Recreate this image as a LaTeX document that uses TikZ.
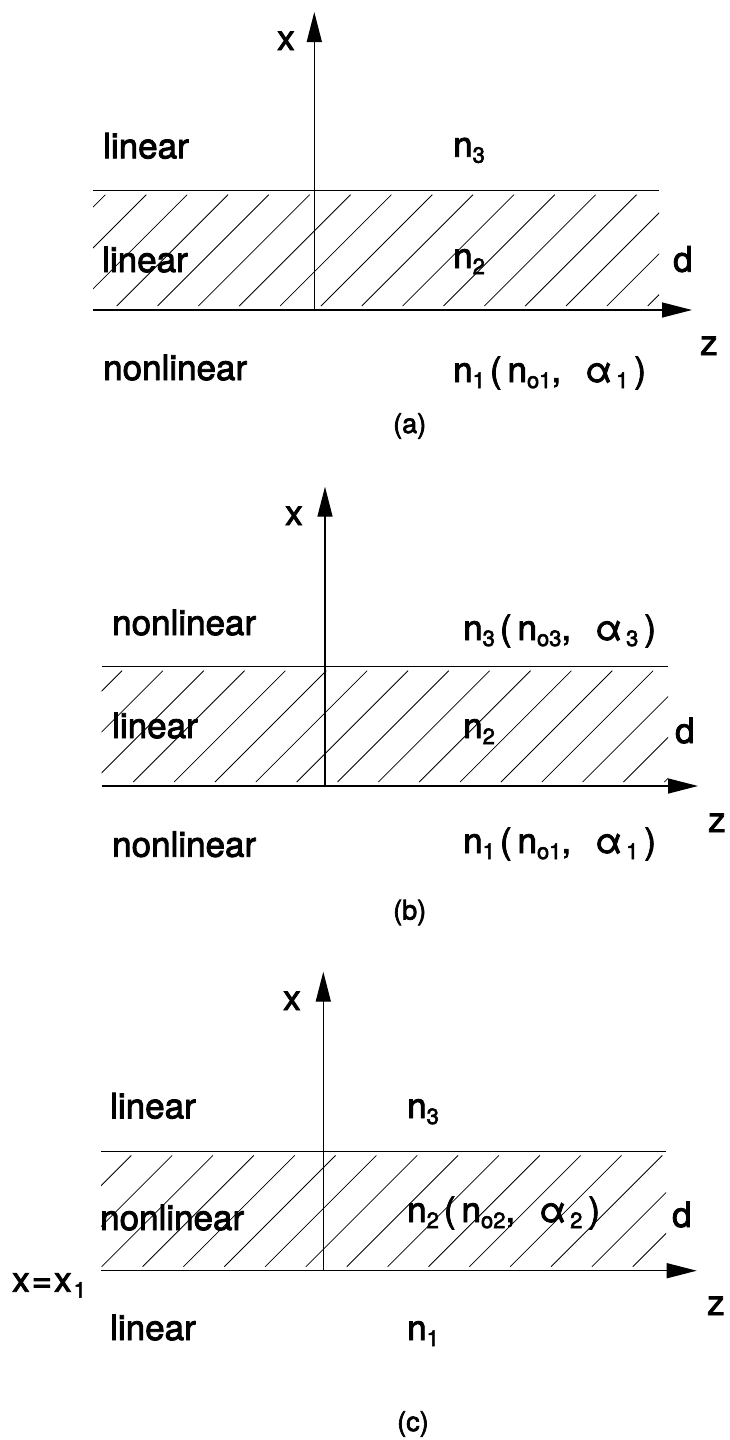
\documentclass[tikz,border=0pt]{standalone}
\usepackage{fontspec}
\setmainfont{TeX Gyre Heros}[FakeBold=2.5]
\usetikzlibrary{arrows.meta}
\newcommand\sbs[1]{\raisebox{-6pt}{\fontsize{22}{22}\selectfont #1}}
\newcommand\nterm[2]{n\sbs{#1}\hspace{5pt}(\hspace{6pt}n\sbs{o#1},\hspace{24pt}α\hspace{4pt}\sbs{#2}\hspace{6pt})}
\tikzset{
  lbl/.style={anchor=base west, inner sep=0pt, font=\fontsize{35}{40}\selectfont},
  captxt/.style={anchor=base west, inner sep=0pt, font=\fontsize{27}{30}\selectfont},
  bound/.style={line width=1.2pt},
  axisarrow/.style={line width=1.4pt, -{Triangle[length=30pt,width=15pt]}},
  hatchline/.style={line width=0.8pt},
}
\begin{document}
\begin{tikzpicture}[x=1pt,y=-1pt]
\useasboundingbox (0,0) rectangle (729,1440);

% ---------- panel (a) ----------
\coordinate (aTL) at (93,190.7);
\coordinate (aTR) at (659,190.7);
\coordinate (aBL) at (93,310);
\coordinate (aO) at (314.3,310);
\coordinate (aZ) at (692,310);
\coordinate (aX) at (314.3,12);
\begin{scope}
  \clip (aTL) rectangle (659,310);
  \foreach \k in {-3,...,13} \draw[hatchline] ({116.7+40.85*\k},306) -- ++(111.3,-111.3);
\end{scope}
\draw[bound] (aTL) -- (aTR);
\draw[axisarrow] (aBL) -- (aZ);
\draw[axisarrow] (aO) -- (aX);
\node[lbl] (ax) at (277,50) {x};
\node[lbl] (al3) at (103,158.3) {linear};
\node[lbl] (an3) at (453,156.7) {n\sbs{3}};
\node[lbl] (al2) at (102,272) {linear};
\node[lbl] (an2) at (453,268) {n\sbs{2}};
\node[lbl] (ad) at (673,271.7) {d};
\node[lbl] (az) at (700,355) {z};
\node[lbl] (al1) at (103,380) {nonlinear};
\node[lbl] (an1) at (453,382) {\nterm{1}{1}};
\node[captxt] (acap) at (393,433) {(a)};

% ---------- panel (b) ----------
\coordinate (bTL) at (101.7,666.7);
\coordinate (bTR) at (668,666.7);
\coordinate (bBL) at (101.7,786);
\coordinate (bO) at (325,786);
\coordinate (bZ) at (698,786);
\coordinate (bX) at (325,486.7);
\begin{scope}
  \clip (bTL) rectangle (668,786);
  \foreach \k in {-4,...,13} \draw[hatchline] ({133.3+40.85*\k},782) -- ++(111.3,-111.3);
\end{scope}
\draw[bound] (bTL) -- (bTR);
\draw[axisarrow] (bBL) -- (bZ);
\draw[axisarrow] (bO) -- (bX);
\node[lbl] (bx) at (285,525) {x};
\node[lbl] (bl3) at (112,635) {nonlinear};
\node[lbl] (bn3) at (463,640) {\nterm{3}{3}};
\node[lbl] (bl2) at (112,738) {linear};
\node[lbl] (bn2) at (463,738) {n\sbs{2}};
\node[lbl] (bd) at (675,743) {d};
\node[lbl] (bz) at (708,832) {z};
\node[lbl] (bl1) at (112,856.7) {nonlinear};
\node[lbl] (bn1) at (463,853) {\nterm{1}{1}};
\node[captxt] (bcap) at (393,919.5) {(b)};

% ---------- panel (c) ----------
\coordinate (cTL) at (101,1151.7);
\coordinate (cTR) at (666,1151.7);
\coordinate (cBL) at (101,1270.7);
\coordinate (cO) at (323.3,1270.7);
\coordinate (cZ) at (696.7,1270.7);
\coordinate (cX) at (323.3,971.7);
\begin{scope}
  \clip (cTL) rectangle (666,1270.7);
  \foreach \k in {-3,...,14} \draw[hatchline] ({101.7+40.85*\k},1266.7) -- ++(111.3,-111.3);
\end{scope}
\draw[bound] (cTL) -- (cTR);
\draw[axisarrow] (cBL) -- (cZ);
\draw[axisarrow] (cO) -- (cX);
\node[lbl] (cx) at (283,1010) {x};
\node[lbl] (cl3) at (110,1118.3) {linear};
\node[lbl] (cn3) at (407,1118) {n\sbs{3}};
\node[lbl] (cl2) at (100,1230) {nonlinear};
\node[lbl] (cn2) at (407,1222) {\nterm{2}{2}};
\node[lbl] (cd) at (672,1227) {d};
\node[lbl] (cxx) at (12,1291.7) {x\hspace{2pt}=\hspace{2pt}x\hspace{2pt}\sbs{1}};
\node[lbl] (cz) at (707,1315) {z};
\node[lbl] (cl1) at (110,1340) {linear};
\node[lbl] (cn1) at (407,1340) {n\sbs{1}};
\node[captxt] (ccap) at (397,1431) {(c)};
\end{tikzpicture}
\end{document}
